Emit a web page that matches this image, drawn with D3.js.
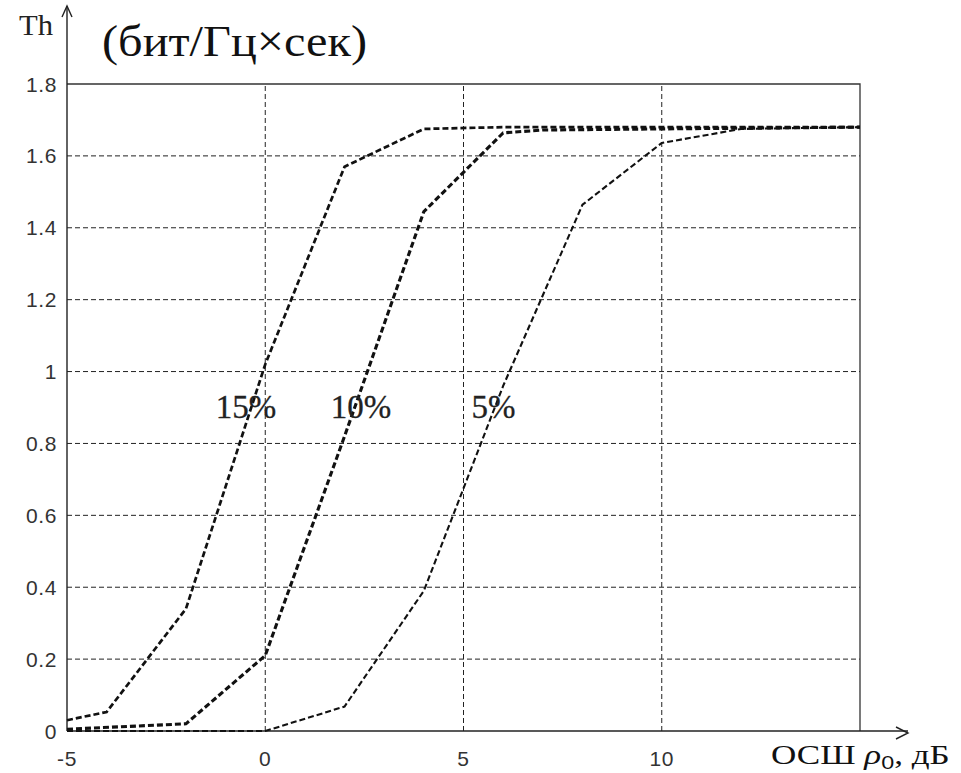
<!DOCTYPE html>
<html>
<head>
<meta charset="utf-8">
<script src="https://cdn.jsdelivr.net/npm/d3@7"></script>
<style>
  html, body { margin: 0; padding: 0; background: #fff; }
  svg { display: block; }
</style>
</head>
<body>
<div id="chart"></div>
<script>
// -- data --
const x15 = [-5, -4, -2, 0, 2, 4, 6, 15];
const th15 = [0.03, 0.053, 0.34, 1.02, 1.57, 1.675, 1.68, 1.68];
const x10 = [-5, -2, 0, 2, 4, 6, 7, 15];
const th10 = [0.005, 0.02, 0.21, 0.82, 1.445, 1.664, 1.672, 1.68];
const x5 = [-5, 0, 2, 4, 6, 8, 10, 12, 15];
const th5 = [0, 0, 0.068, 0.39, 0.96, 1.464, 1.636, 1.675, 1.68];

const xTicks = [-5, 0, 5, 10];
const yTicks = [0, 0.2, 0.4, 0.6, 0.8, 1, 1.2, 1.4, 1.6, 1.8];
const curveNames = ['15%', '10%', '5%'];
const curveLabelPos = [[-1.25, 0.87], [1.65, 0.87], [5.2, 0.87]];

const W = 961, H = 773;
const serif = '"Liberation Serif", "Times New Roman", serif';
const sans = '"Liberation Sans", Arial, sans-serif';

const x = d3.scaleLinear().domain([-5, 15]).range([67, 860]);
const y = d3.scaleLinear().domain([0, 1.8]).range([731, 84]);

const svg = d3.select('#chart').append('svg')
  .attr('width', W).attr('height', H);

// grid
svg.append('g').selectAll('line')
  .data(yTicks.filter(v => v > 0 && v < 1.8))
  .enter().append('line')
  .attr('x1', x(-5)).attr('x2', x(15))
  .attr('y1', d => y(d)).attr('y2', d => y(d))
  .attr('stroke', '#222').attr('stroke-width', 1)
  .attr('stroke-dasharray', '5,3');

svg.append('g').selectAll('line')
  .data(xTicks.filter(v => v > -5))
  .enter().append('line')
  .attr('x1', d => x(d)).attr('x2', d => x(d))
  .attr('y1', y(0)).attr('y2', y(1.8))
  .attr('stroke', '#222').attr('stroke-width', 1)
  .attr('stroke-dasharray', '5,3');

// frame: top and right
svg.append('path')
  .attr('d', `M${x(-5)},${y(1.8)}H${x(15)}V${y(0)}`)
  .attr('fill', 'none').attr('stroke', '#333').attr('stroke-width', 1.3);

// axes with arrows
const axisG = svg.append('g').attr('stroke', '#222').attr('stroke-width', 1.4).attr('fill', 'none');
axisG.append('path').attr('d', `M${x(-5)},${y(0)}H908`);
axisG.append('path').attr('d', `M896,727L908,733L896,739`);
axisG.append('path').attr('d', `M${x(-5)},${y(0)}V6`);
axisG.append('path').attr('d', `M${x(-5) - 5},17L${x(-5)},6L${x(-5) + 5},17`);

// tick labels
svg.append('g').selectAll('text')
  .data(yTicks).enter().append('text')
  .attr('x', 57).attr('y', d => y(d))
  .attr('dy', '0.36em')
  .attr('text-anchor', 'end')
  .attr('font-family', sans)
  .attr('font-size', 21).attr('letter-spacing', 0.6)
  .attr('fill', '#333')
  .text(d => d3.format('~g')(d));

svg.append('g').selectAll('text')
  .data(xTicks).enter().append('text')
  .attr('x', d => x(d)).attr('y', 766)
  .attr('text-anchor', 'middle')
  .attr('font-family', sans)
  .attr('font-size', 21).attr('letter-spacing', 0.6)
  .attr('fill', '#333')
  .text(d => d);

// curves
const line = d3.line().x(d => x(d[0])).y(d => y(d[1]));
const series = [
  { xs: x15, ys: th15, w: 2.7 },
  { xs: x10, ys: th10, w: 3.1 },
  { xs: x5, ys: th5, w: 2.1 },
];
svg.append('g').selectAll('path')
  .data(series).enter().append('path')
  .attr('d', s => line(s.xs.map((v, i) => [v, s.ys[i]])))
  .attr('fill', 'none').attr('stroke', '#111')
  .attr('stroke-width', s => s.w)
  .attr('stroke-dasharray', '6,3');

// curve labels
svg.append('g').selectAll('text')
  .data(curveNames).enter().append('text')
  .attr('x', (d, i) => x(curveLabelPos[i][0]))
  .attr('y', (d, i) => y(curveLabelPos[i][1]))
  .attr('font-family', serif)
  .attr('font-size', 33).attr('fill', '#222')
  .attr('stroke', '#222').attr('stroke-width', 0.3)
  .text(d => d);

// axis titles
svg.append('text').attr('x', 19).attr('y', 35)
  .attr('font-family', serif).attr('font-size', 29).attr('fill', '#222')
  .attr('textLength', 34).attr('lengthAdjust', 'spacingAndGlyphs')
  .text('Th');
svg.append('text').attr('x', 102).attr('y', 56)
  .attr('font-family', serif).attr('font-size', 44).attr('fill', '#111')
  .attr('textLength', 265).attr('lengthAdjust', 'spacingAndGlyphs')
  .text('(бит/Гц×сек)');

const xt = svg.append('g').attr('transform', 'translate(771,764) scale(1.3,1)')
  .append('text')
  .attr('font-family', serif).attr('font-size', 27).attr('fill', '#111');
xt.append('tspan').text('ОСШ ');
xt.append('tspan').attr('font-style', 'italic').text('ρ');
xt.append('tspan').attr('font-family', sans)
  .attr('font-size', 18).attr('dy', 5).text('0');
xt.append('tspan').attr('dy', -5).text(', дБ');
</script>
</body>
</html>
